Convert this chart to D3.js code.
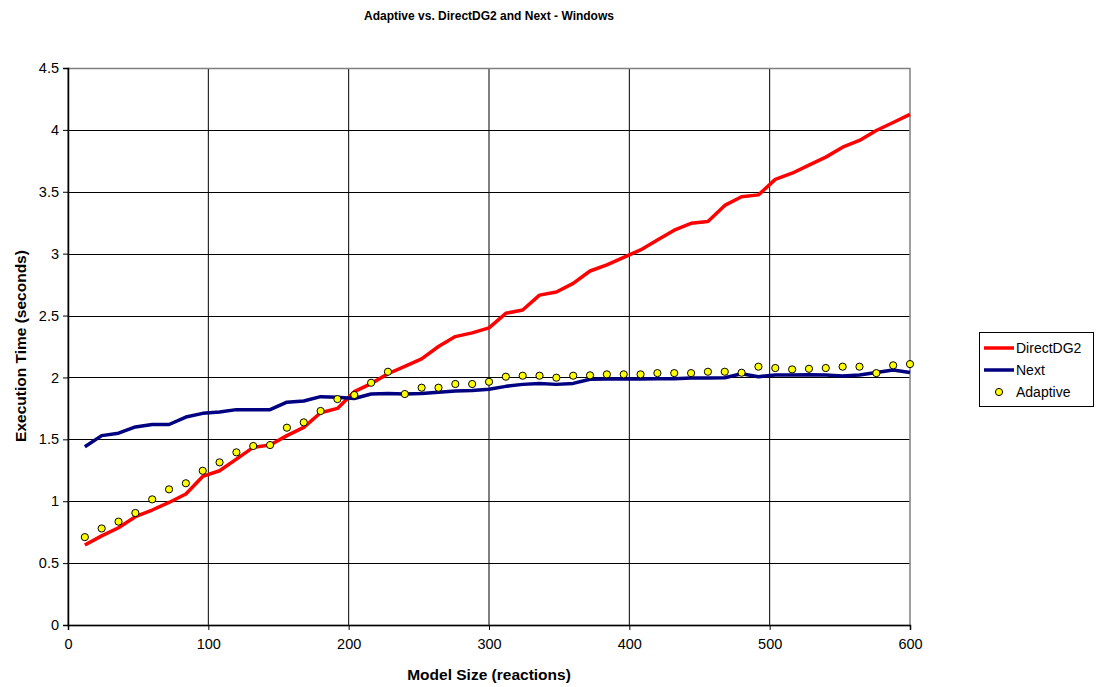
<!DOCTYPE html>
<html>
<head>
<meta charset="utf-8">
<script src="https://cdn.jsdelivr.net/npm/d3@7"></script>
<style>
  body { margin: 0; background: #fff; }
  svg { font-family: "Liberation Sans", Arial, sans-serif; }
</style>
</head>
<body>
<svg id="chart" width="1100" height="687"></svg>
<script>
// model sizes (reactions)
var sizes = [12,24,36,48,60,72,84,96,108,120,132,144,156,168,180,192,204,216,228,240,
  252,264,276,288,300,312,324,336,348,360,372,384,396,408,420,432,444,456,468,480,
  492,504,516,528,540,552,564,576,588,600];

var directDG2 = [0.646,0.72,0.786,0.875,0.929,0.99,1.058,1.2,1.246,1.34,1.435,1.454,1.53,1.597,1.715,1.75,1.885,1.95,2.03,2.09,
  2.15,2.25,2.33,2.36,2.4,2.518,2.545,2.665,2.69,2.76,2.86,2.91,2.97,3.03,3.11,3.19,3.245,3.26,3.39,3.46,
  3.475,3.6,3.65,3.715,3.78,3.86,3.915,3.995,4.06,4.125];

var next = [1.44,1.53,1.55,1.6,1.62,1.62,1.68,1.71,1.72,1.74,1.74,1.74,1.8,1.81,1.845,1.84,1.83,1.866,1.87,1.866,
  1.87,1.88,1.89,1.895,1.905,1.928,1.944,1.952,1.944,1.952,1.985,1.987,1.987,1.987,1.99,1.99,1.995,1.995,1.998,2.03,
  2.006,2.02,2.02,2.022,2.02,2.011,2.02,2.04,2.06,2.04];

var adaptive = [0.71,0.78,0.835,0.905,1.015,1.096,1.145,1.246,1.314,1.395,1.446,1.454,1.594,1.637,1.729,1.825,1.858,1.957,2.046,1.866,
  1.917,1.917,1.947,1.947,1.965,2.006,2.014,2.014,1.998,2.014,2.017,2.025,2.025,2.025,2.035,2.035,2.035,2.046,2.046,2.038,
  2.087,2.076,2.065,2.07,2.076,2.087,2.087,2.035,2.098,2.108];

var xTicks = [0,100,200,300,400,500,600];
var yTicks = [0,0.5,1,1.5,2,2.5,3,3.5,4,4.5];

var series = [
  {name: "DirectDG2", values: directDG2, color: "#ff0000", type: "line"},
  {name: "Next", values: next, color: "#000080", type: "line"},
  {name: "Adaptive", values: adaptive, color: "#ffff00", type: "dot"}
];

var svg = d3.select("#chart");
var plot = {left: 68, right: 910, top: 68, bottom: 625};

var x = d3.scaleLinear().domain([0, 600]).range([plot.left, plot.right]);
var y = d3.scaleLinear().domain([0, 4.5]).range([plot.bottom, plot.top]);

// title
svg.append("text")
  .attr("x", 489).attr("y", 20)
  .attr("text-anchor", "middle")
  .attr("font-size", "12px").attr("font-weight", "bold")
  .text("Adaptive vs. DirectDG2 and Next - Windows");

// gridlines
svg.append("g").selectAll("line").data(yTicks.slice(1)).join("line")
  .attr("x1", plot.left).attr("x2", plot.right)
  .attr("y1", function(d){ return Math.round(y(d)) + 0.5; })
  .attr("y2", function(d){ return Math.round(y(d)) + 0.5; })
  .attr("stroke", "#000").attr("stroke-width", 1);

svg.append("g").selectAll("line").data(xTicks.slice(1, -1)).join("line")
  .attr("x1", function(d){ return x(d); }).attr("x2", function(d){ return x(d); })
  .attr("y1", plot.top).attr("y2", plot.bottom)
  .attr("stroke", "#000").attr("stroke-width", 1);

// plot border
svg.append("rect")
  .attr("x", plot.left).attr("y", plot.top + 0.5)
  .attr("width", plot.right - plot.left).attr("height", plot.bottom - plot.top)
  .attr("fill", "none").attr("stroke", "#808080").attr("stroke-width", 1.5);

// axes
var yAxis = d3.axisLeft(y).tickValues(yTicks).tickSize(5).tickPadding(4)
  .tickFormat(function(d){ return d3.format("")(d); });
var gy = svg.append("g").attr("transform", "translate(" + plot.left + ",0)").call(yAxis);

var xAxis = d3.axisBottom(x).tickValues(xTicks).tickSize(5).tickPadding(9);
var gx = svg.append("g").attr("transform", "translate(0," + plot.bottom + ")").call(xAxis);

[gx, gy].forEach(function(g){
  g.select(".domain").attr("stroke", "#000").attr("stroke-width", 1.5);
  g.selectAll(".tick line").attr("stroke", "#000");
  g.selectAll("text").attr("font-size", "14.5px").attr("fill", "#000")
    .attr("font-family", "Liberation Sans, Arial, sans-serif");
});

// axis titles
svg.append("text")
  .attr("x", 489).attr("y", 680)
  .attr("text-anchor", "middle")
  .attr("font-size", "15.5px").attr("font-weight", "bold")
  .text("Model Size (reactions)");

svg.append("text")
  .attr("transform", "translate(26,346) rotate(-90)")
  .attr("text-anchor", "middle")
  .attr("font-size", "15.5px").attr("font-weight", "bold")
  .text("Execution Time (seconds)");

// series
series.forEach(function(s){
  var pts = sizes.map(function(v, i){ return [v, s.values[i]]; });
  if (s.type === "line") {
    svg.append("path")
      .datum(pts)
      .attr("fill", "none")
      .attr("stroke", s.color)
      .attr("stroke-width", 3.5)
      .attr("stroke-linejoin", "round")
      .attr("d", d3.line().x(function(d){ return x(d[0]); }).y(function(d){ return y(d[1]); }));
  } else {
    svg.append("g").selectAll("circle").data(pts).join("circle")
      .attr("cx", function(d){ return x(d[0]); })
      .attr("cy", function(d){ return y(d[1]); })
      .attr("r", 3.6)
      .attr("fill", s.color)
      .attr("stroke", "#000").attr("stroke-width", 1);
  }
});

// legend
var legend = svg.append("g").attr("transform", "translate(979,332)");
legend.append("rect")
  .attr("x", 0.5).attr("y", 0.5).attr("width", 114).attr("height", 74)
  .attr("fill", "#fff").attr("stroke", "#000").attr("stroke-width", 1);

series.forEach(function(s, i){
  var ly = 16 + i * 22;
  if (s.type === "line") {
    legend.append("line")
      .attr("x1", 5).attr("x2", 35).attr("y1", ly).attr("y2", ly)
      .attr("stroke", s.color).attr("stroke-width", 3.5);
  } else {
    legend.append("circle")
      .attr("cx", 20).attr("cy", ly).attr("r", 3.6)
      .attr("fill", s.color).attr("stroke", "#000").attr("stroke-width", 1);
  }
  legend.append("text")
    .attr("x", 37).attr("y", ly + 5)
    .attr("font-size", "14px")
    .text(s.name);
});
</script>
</body>
</html>
